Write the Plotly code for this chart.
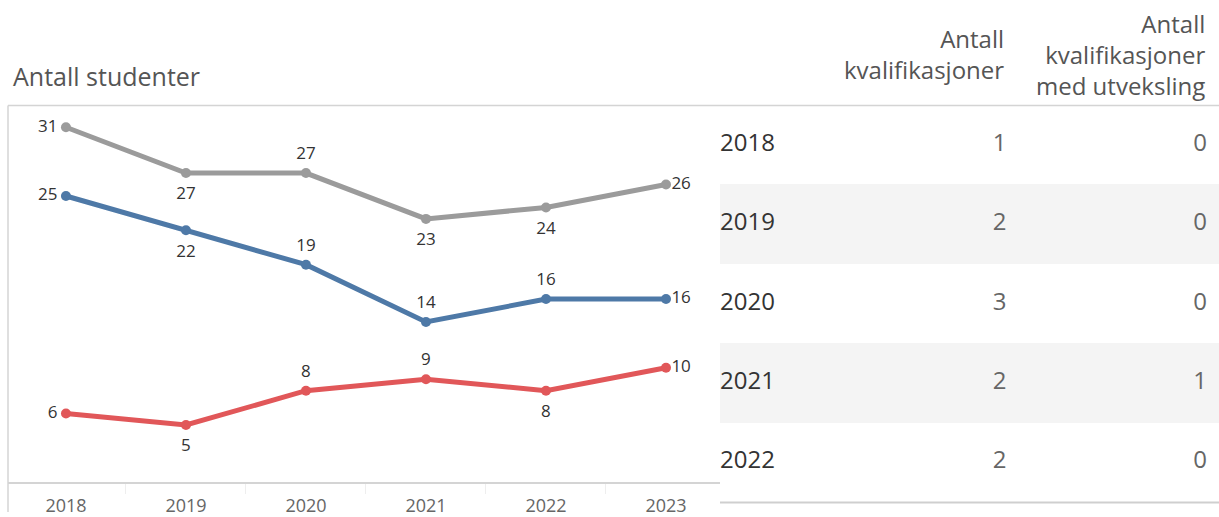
import plotly.graph_objects as go

# ---- data ----
years = [2018, 2019, 2020, 2021, 2022, 2023]
total = [31, 27, 27, 23, 24, 26]
group_a = [25, 22, 19, 14, 16, 16]
group_b = [6, 5, 8, 9, 8, 10]

table_years = ["2018", "2019", "2020", "2021", "2022"]
kvalifikasjoner = [1, 2, 3, 2, 2]
kval_utveksling = [0, 0, 0, 1, 0]

chart_title = "Antall studenter"
col_headers = ["Antall<br>kvalifikasjoner", "Antall<br>kvalifikasjoner<br>med utveksling"]

# ---- layout constants ----
W, H = 1219, 517
FONT = "Open Sans"
def px_x(p): return p / W
def px_y(p): return (H - p) / H

gray, blue, red = "#9b9b9b", "#4e79a7", "#e15759"

pos_total = ["middle left", "bottom center", "top center", "bottom center", "bottom center", "middle right"]
pos_a = ["middle left", "bottom center", "top center", "top center", "top center", "middle right"]
pos_b = ["middle left", "bottom center", "top center", "top center", "bottom center", "middle right"]

OFFSET_SIZE = {"middle left": 12, "middle right": 7, "top center": 14, "bottom center": 20}

def label_sizes(pos):
    return [OFFSET_SIZE[p] for p in pos]

fig = go.Figure()
for name, vals, col, pos in [("Totalt", total, gray, pos_total),
                             ("Gruppe 1", group_a, blue, pos_a),
                             ("Gruppe 2", group_b, red, pos_b)]:
    fig.add_trace(go.Scatter(
        x=years, y=vals, name=name, mode="lines+markers",
        line=dict(color=col, width=5),
        marker=dict(color=col, size=10),
        cliponaxis=False, hoverinfo="x+y+name",
        xaxis="x", yaxis="y",
    ))
    fig.add_trace(go.Scatter(
        x=years, y=vals, name=name, mode="markers+text",
        marker=dict(color=col, size=label_sizes(pos), opacity=0),
        text=[str(v) for v in vals], textposition=pos,
        textfont=dict(family=FONT, size=17, color="#333333"),
        cliponaxis=False, hoverinfo="skip", showlegend=False,
        xaxis="x", yaxis="y",
    ))

# ---- table as second axes ----
n = len(table_years)
row_idx = list(range(n))
fills = ["#ffffff" if i % 2 == 0 else "#f4f4f4" for i in row_idx]
fig.add_trace(go.Bar(
    x=[1] * n, y=row_idx, base=0, orientation="h", width=1,
    marker=dict(color=fills, line=dict(width=0)),
    xaxis="x2", yaxis="y2", hoverinfo="skip", showlegend=False,
))
fig.add_trace(go.Scatter(
    x=[0.0] * n, y=row_idx, mode="text", text=table_years,
    textposition="middle right",
    textfont=dict(family=FONT, size=24, color="#333333"),
    xaxis="x2", yaxis="y2", hoverinfo="skip", showlegend=False, cliponaxis=False,
))
fig.add_trace(go.Scatter(
    x=[0.574] * n, y=row_idx, mode="text", text=[str(v) for v in kvalifikasjoner],
    textposition="middle left",
    textfont=dict(family=FONT, size=24, color="#666666"),
    xaxis="x2", yaxis="y2", hoverinfo="skip", showlegend=False, cliponaxis=False,
))
fig.add_trace(go.Scatter(
    x=[0.976] * n, y=row_idx, mode="text", text=[str(v) for v in kval_utveksling],
    textposition="middle left",
    textfont=dict(family=FONT, size=24, color="#666666"),
    xaxis="x2", yaxis="y2", hoverinfo="skip", showlegend=False, cliponaxis=False,
))

annotations = [
    dict(text=chart_title, x=px_x(11), y=px_y(77), xref="paper", yref="paper",
         xanchor="left", yanchor="middle", showarrow=False,
         font=dict(family=FONT, size=25, color="#555555")),
    dict(text=col_headers[0], x=px_x(1006), y=px_y(55), xref="paper", yref="paper",
         xanchor="right", yanchor="middle", align="right", showarrow=False,
         font=dict(family=FONT, size=24, color="#555555")),
    dict(text=col_headers[1], x=px_x(1207), y=px_y(55), xref="paper", yref="paper",
         xanchor="right", yanchor="middle", align="right", showarrow=False,
         font=dict(family=FONT, size=24, color="#555555")),
]

shapes = [
    dict(type="line", xref="paper", yref="paper", x0=px_x(8), x1=1, y0=px_y(106.5), y1=px_y(106.5),
         line=dict(color="#d4d4d4", width=1.5)),
    dict(type="line", xref="paper", yref="paper", x0=px_x(8), x1=px_x(8), y0=0, y1=px_y(106.5),
         line=dict(color="#d4d4d4", width=1.5)),
    dict(type="line", xref="paper", yref="paper", x0=px_x(720), x1=1, y0=px_y(507.5), y1=px_y(507.5),
         line=dict(color="#cfcfcf", width=2)),
]

fig.update_layout(
    width=W, height=H, autosize=False, margin=dict(l=0, r=0, t=0, b=0),
    paper_bgcolor="white", plot_bgcolor="rgba(0,0,0,0)",
    showlegend=False, bargap=0,
    font=dict(family=FONT),
    xaxis=dict(domain=[px_x(8), px_x(720)], range=[2018 - 0.483, 2023 + 0.45],
               tickvals=years, ticktext=[str(y) for y in years],
               tickfont=dict(family=FONT, size=18, color="#666666"),
               showgrid=False, zeroline=False, showline=True, linecolor="#d4d4d4", linewidth=2,
               ticks="", ticklabelstandoff=6,
               minor=dict(tickvals=[y + 0.5 for y in years[:-1]], ticks="outside",
                          ticklen=10, tickcolor="#eeeeee", tickwidth=1),
               fixedrange=True),
    yaxis=dict(domain=[px_y(487), px_y(107)], range=[0, 32.86],
               showticklabels=False, showgrid=False, zeroline=False, showline=False,
               ticks="", fixedrange=True),
    xaxis2=dict(domain=[px_x(720), 1], range=[0, 1], visible=False, fixedrange=True),
    yaxis2=dict(domain=[px_y(507), px_y(106)], range=[n - 0.5, -0.5], visible=False,
                fixedrange=True),
    annotations=annotations, shapes=shapes,
)

fig.write_html("out.html", config={"displayModeBar": False, "responsive": False},
               post_script="document.body.style.margin='0';document.body.style.overflow='hidden';")
